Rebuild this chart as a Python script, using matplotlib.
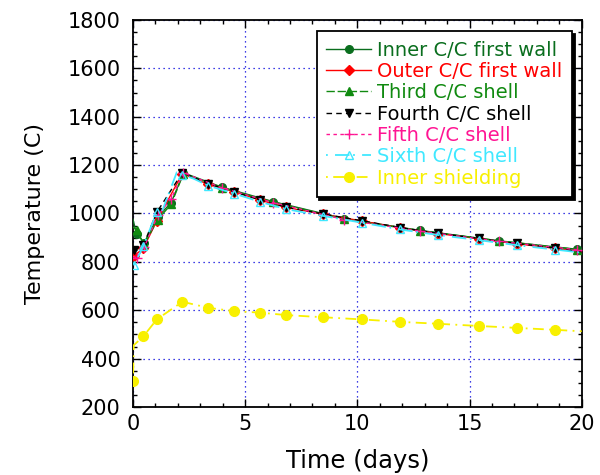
import matplotlib
matplotlib.use("Agg")
import matplotlib.pyplot as plt
from matplotlib.ticker import MultipleLocator

plt.rcParams['font.family'] = ['DejaVu Sans']

# ---- data ----
t_a = [0.05, 0.46, 1.06, 2.2, 3.36, 4.52, 5.67, 6.83, 8.47, 10.2, 11.9, 13.6, 15.4, 17.1, 18.8, 20.0]
outer_fw = [825, 856, 970, 1165, 1120, 1090, 1055, 1025, 997, 969, 941, 917, 896, 875, 856, 842]
fourth = [850, 869, 1005, 1169, 1123, 1089, 1056, 1026, 998, 970, 942, 918, 897, 876, 857, 842]
t_six = [0.05, 0.46, 1.06, 1.3, 1.95, 2.2, 2.7, 3.36, 4.52, 5.67, 6.83, 8.47, 10.2, 11.9, 13.6, 15.4, 17.1, 18.8, 20.0]
sixth = [786, 866, 1005, 1010, 1170, 1160, 1144, 1115, 1082, 1048, 1018, 990, 962, 934, 911, 890, 869, 851, 838]

t_b = [0.0, 0.16, 0.5, 1.1, 1.7, 2.25, 3.96, 6.25, 9.4, 12.8, 16.3, 19.8, 20.0]
inner_fw = [975, 915, 880, 985, 1045, 1168, 1109, 1049, 979, 930, 887, 852, 848]
third = [945, 930, 872, 975, 1038, 1165, 1107, 1047, 977, 929, 887, 851, 847]
fifth = [822, 818, 860, 992, 1061, 1168, 1106, 1045, 975, 927, 885, 850, 846]

t_y = [0.0, 0.03, 0.46, 1.06, 2.2, 3.36, 4.52, 5.67, 6.83, 8.47, 10.2, 11.9, 13.6, 15.4, 17.1, 18.8, 20.0]
shield = [309, 455, 492, 562, 635, 610, 596, 590, 580, 571, 562, 552, 544, 535, 527, 519, 513]

fig = plt.figure(figsize=(6, 4.75), dpi=100)
ax = fig.add_axes([0.2217, 0.1432, 0.7478, 0.8147])

ms = 5.5
mk_a = list(range(len(t_a) - 1))
mk_b = list(range(1, len(t_b) - 1))
ax.plot(t_b, inner_fw, color='#0a6e1e', ls='-', lw=1.0, marker='o', ms=ms,
        markevery=mk_b, label='Inner C/C first wall', zorder=3)
ax.plot(t_a, outer_fw, color='#ff0000', ls='-', lw=1.0, marker='D', ms=ms - 0.5,
        markevery=mk_a, label='Outer C/C first wall', zorder=3)
ax.plot(t_b, third, color='#108a10', ls=(0, (6, 2)), lw=1.0, marker='^', ms=ms,
        markevery=mk_b, label='Third C/C shell', zorder=3)
ax.plot(t_a, fourth, color='#000000', ls=(0, (4, 3)), lw=1.0, marker='v', ms=ms + 0.5,
        markevery=mk_a, label='Fourth C/C shell', zorder=4)
ax.plot(t_b, fifth, color='#ff1493', ls=(0, (2.5, 2.5)), lw=1.0, marker='+', ms=ms + 2,
        mew=1.0, markevery=mk_b, label='Fifth C/C shell', zorder=5)
six_mk = [0, 1, 2, 5, 7, 8, 9, 10, 11, 12, 13, 14, 15, 16, 17]
ax.plot(t_six, sixth, color='#40e8ff', ls=(0, (1, 4, 8, 2)), lw=1.3, marker='^', ms=ms + 0.5,
        mfc='none', mew=1.0, markevery=six_mk, label='Sixth C/C shell', zorder=5)
y_mk = [0] + list(range(2, len(t_y) - 1))
ax.plot(t_y, shield, color='#f8f000', ls=(0, (1, 3, 6, 3)), lw=1.3, marker='o', ms=ms + 1.5,
        markevery=y_mk, label='Inner shielding', zorder=3)

ax.set_xlim(0, 20)
ax.set_ylim(200, 1800)
ax.xaxis.set_major_locator(MultipleLocator(5))
ax.xaxis.set_minor_locator(MultipleLocator(1))
ax.yaxis.set_major_locator(MultipleLocator(200))
ax.yaxis.set_minor_locator(MultipleLocator(50))
ax.tick_params(which='both', direction='in', top=True, right=True, width=1.0, labelsize=15)
ax.tick_params(which='major', length=6)
ax.tick_params(which='minor', length=3)
ax.tick_params(axis='x', pad=5)
ax.tick_params(axis='y', pad=9)
for s in ax.spines.values():
    s.set_linewidth(1.3)
ax.grid(True, which='major', color='#0000dd', ls=(0, (1, 3)), lw=0.9)

ax.set_xlabel('Time (days)', fontsize=17.5, labelpad=11)
ax.set_ylabel('Temperature (C)', fontsize=16, labelpad=16)

leg = ax.legend(loc='upper right', bbox_to_anchor=(0.978, 0.972), fontsize=14,
                frameon=True, fancybox=False, shadow={'color': 'black', 'alpha': 1.0},
                edgecolor='black', handlelength=2.3, handletextpad=0.3,
                labelspacing=0.12, borderpad=0.5, borderaxespad=0.0)
leg.get_frame().set_linewidth(1.3)
for txt, line in zip(leg.get_texts(), leg.get_lines()):
    txt.set_color(line.get_color())
leg.set_zorder(10)

fig.savefig('out.png', dpi=100)
